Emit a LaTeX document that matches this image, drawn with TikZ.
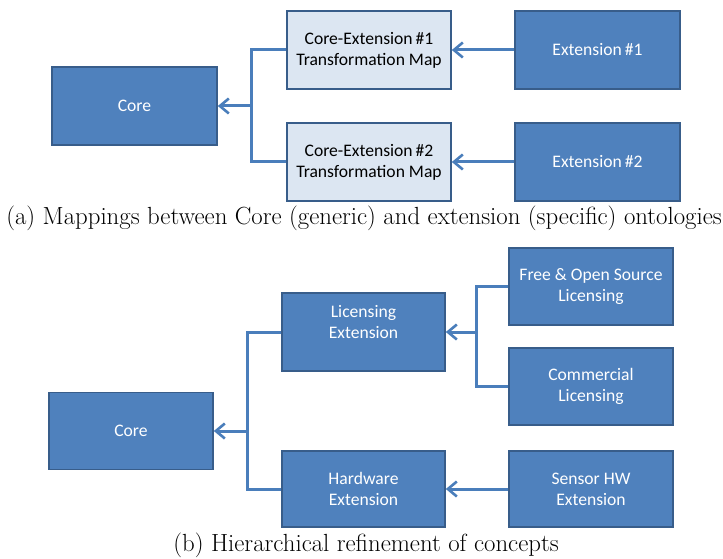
\documentclass[tikz,border=0pt]{standalone}
\usepackage{fontspec}
\setmainfont{Latin Modern Roman}
\newfontfamily\boxfont{Carlito}
\usetikzlibrary{arrows.meta}
\definecolor{boxblue}{HTML}{4F81BD}
\definecolor{boxedge}{HTML}{385D8A}
\definecolor{mapfill}{HTML}{DCE6F2}
\definecolor{linkblue}{HTML}{4A7EBB}
\tikzset{
  blockbox/.style={draw=boxedge, line width=1.6pt, fill=boxblue, text=white,
    minimum width=164pt, minimum height=77pt, inner sep=0pt, align=center,
    font=\boxfont\fontsize{17.6}{21}\selectfont},
  mapbox/.style={blockbox, fill=mapfill, text=black},
  link/.style={draw=linkblue, line width=3pt},
  arrowlink/.style={link, -{Straight Barb[length=9pt,width=15pt,line width=2.6pt]}},
  caption/.style={font=\fontsize{24.8}{29}\selectfont, inner sep=0pt}
}
\begin{document}
\begin{tikzpicture}[x=1pt, y=-1pt]
  \useasboundingbox (0,0) rectangle (723,559);

  % (a) mappings between core and extension ontologies
  \node[blockbox, minimum width=165pt, minimum height=78pt] (coreA) at (134.5,106) {Core};
  \node[mapbox, minimum height=78pt] (mapA) at (369,50) {Core-Extension\,\#1\\Transformation Map};
  \node[mapbox, minimum height=78pt] (mapB) at (369,162) {Core-Extension\,\#2\\Transformation Map};
  \node[blockbox, minimum width=165pt, minimum height=78pt] (extA) at (597.5,50) {Extension\,\#1};
  \node[blockbox, minimum width=165pt, minimum height=78pt] (extB) at (597.5,162) {Extension\,\#2};
  \coordinate (jA) at (251,106);

  \draw[link] (mapA.west) -| (jA) |- (mapB.west);
  \draw[arrowlink] (jA) -- (coreA.east);
  \draw[arrowlink] (extA.west) -- (mapA.east);
  \draw[arrowlink] (extB.west) -- (mapB.east);

  \node[caption] (capA) at (364,218) {(a) Mappings between Core (generic) and extension (specific) ontologies};

  % (b) hierarchical refinement of concepts
  \node[blockbox] (coreB) at (131,431) {Core};
  \node[blockbox, minimum width=163pt, minimum height=78pt] (licB) at (363.5,332) {Licensing\\Extension\\\mbox{}};
  \node[blockbox, minimum width=163pt, minimum height=76pt] (hwB) at (363.5,489) {Hardware\\Extension};
  \node[blockbox] (fossB) at (591,286.5) {Free \& Open Source\\Licensing};
  \node[blockbox] (commB) at (591,386.5) {Commercial\\Licensing};
  \node[blockbox, minimum height=76pt] (sensB) at (591,489) {Sensor HW\\Extension};
  \coordinate (jB) at (247,431);
  \coordinate (jC) at (476,332);

  \draw[link] (licB.west) -| (jB) |- (hwB.west);
  \draw[arrowlink] (jB) -- (coreB.east);
  \draw[link] (fossB.west) -| (jC) |- (commB.west);
  \draw[arrowlink] (jC) -- (licB.east);
  \draw[arrowlink] (sensB.west) -- (hwB.east);

  \node[caption] (capB) at (366,545) {(b) Hierarchical refinement of concepts};
\end{tikzpicture}
\end{document}
